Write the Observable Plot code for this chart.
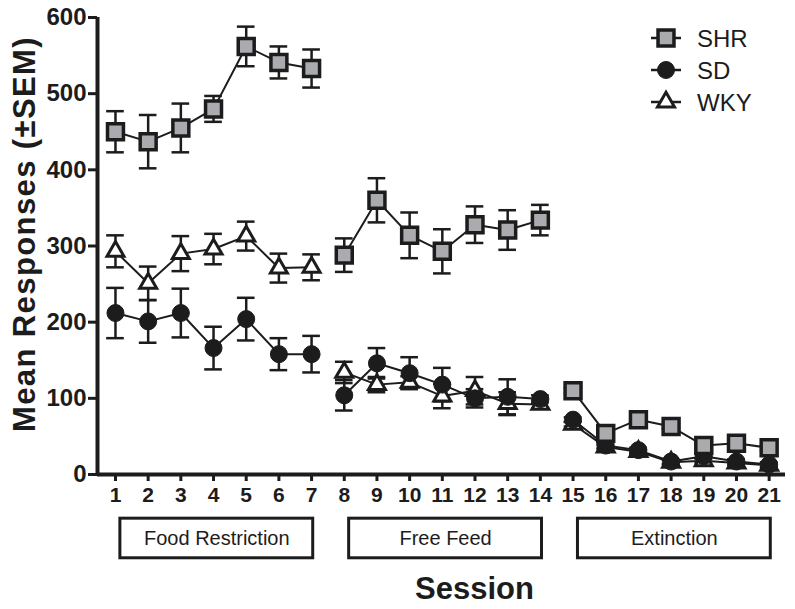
<!DOCTYPE html>
<html>
<head>
<meta charset="utf-8">
<script src="https://cdn.jsdelivr.net/npm/d3@7"></script>
<script src="https://cdn.jsdelivr.net/npm/@observablehq/plot@0.6"></script>
<style>
  html, body { margin: 0; padding: 0; background: #fff; }
  #wrap { position: relative; width: 795px; height: 609px; }
  #legend { position: absolute; left: 0; top: 0; }
</style>
</head>
<body>
<div id="wrap"></div>
<script>
// ---- data ----
const sessions = [1,2,3,4,5,6,7,8,9,10,11,12,13,14,15,16,17,18,19,20,21];
const seriesNames = ["SHR", "SD", "WKY"];
const shrMean = [450,437,455,480,562,541,533, 288,360,314,293,328,321,334, 110,54,72,63,38,41,35];
const shrSem  = [27,35,32,17,26,21,25, 22,29,30,29,24,26,20, 3,3,3,3,3,3,3];
const sdMean  = [212,201,212,166,204,158,158, 104,146,133,118,100,102,99, 72,38,32,17,24,17,13];
const sdSem   = [33,28,32,28,28,21,24, 20,20,21,22,12,23,5, 3,3,3,3,3,3,3];
const wkyMean = [293,251,290,296,313,271,272, 134,118,121,103,110,93,92, 66,36,30,16,18,15,12];
const wkySem  = [21,22,23,20,19,19,17, 14,10,8,16,18,15,5, 3,3,3,3,3,3,3];
const phaseNames = ["Food Restriction", "Free Feed", "Extinction"];
const phaseStart = [1, 8, 15];
const phaseEnd = [7, 14, 21];
const yTicks = [0,100,200,300,400,500,600];
const yLabel = "Mean Responses (\u00B1SEM)";
const xLabel = "Session";

// ---- build tables ----
const phaseOf = s => phaseNames[phaseStart.findIndex((st, i) => s >= st && s <= phaseEnd[i])];
const means = {SHR: shrMean, SD: sdMean, WKY: wkyMean};
const sems = {SHR: shrSem, SD: sdSem, WKY: wkySem};
const rows = [];
for (const name of seriesNames) {
  sessions.forEach((s, i) => rows.push({series: name, session: s, mean: means[name][i], sem: sems[name][i], phase: phaseOf(s)}));
}
const phases = phaseNames.map((n, i) => ({name: n, start: phaseStart[i], end: phaseEnd[i]}));

const ink = "#1c1c1c";
const gray = "#a9abae";
const capHalf = 0.27;

const chart = Plot.plot({
  width: 795,
  height: 609,
  marginLeft: 97,
  marginRight: 10,
  marginTop: 17,
  marginBottom: 135,
  style: {fontFamily: "'Liberation Sans', Arial, sans-serif", color: ink, background: "#fff", overflow: "visible"},
  x: {type: "linear", domain: [0.45, 21.5]},
  y: {domain: [0, 600]},
  marks: [
    Plot.axisY({ticks: yTicks, tickSize: 9, tickPadding: 2, fontSize: 24, fontWeight: "bold", strokeWidth: 3, label: null}),
    Plot.axisX({ticks: sessions, tickSize: 7, tickPadding: 6, fontSize: 21, fontWeight: "bold", strokeWidth: 3, label: null, tickFormat: d => String(d)}),
    Plot.ruleX([0.45], {y1: 0, y2: 600, stroke: ink, strokeWidth: 4}),
    Plot.ruleY([0], {x1: 0.45, x2: 21.5, stroke: ink, strokeWidth: 4}),
    // error bars
    Plot.ruleX(rows, {x: "session", y1: d => d.mean - d.sem, y2: d => d.mean + d.sem, stroke: ink, strokeWidth: 2.5}),
    Plot.ruleY(rows, {y: d => d.mean + d.sem, x1: d => d.session - capHalf, x2: d => d.session + capHalf, stroke: ink, strokeWidth: 2.5}),
    Plot.ruleY(rows, {y: d => d.mean - d.sem, x1: d => d.session - capHalf, x2: d => d.session + capHalf, stroke: ink, strokeWidth: 2.5}),
    // lines (broken between phases)
    Plot.line(rows, {x: "session", y: "mean", z: d => d.series + "|" + d.phase, stroke: ink, strokeWidth: 2}),
    // markers
    Plot.dot(rows.filter(d => d.series === "WKY"), {x: "session", y: "mean", symbol: "triangle", r: 6.3, fill: "#fff", stroke: ink, strokeWidth: 3}),
    Plot.dot(rows.filter(d => d.series === "SD"), {x: "session", y: "mean", symbol: "circle", r: 8.5, fill: ink, stroke: ink, strokeWidth: 1}),
    Plot.dot(rows.filter(d => d.series === "SHR"), {x: "session", y: "mean", symbol: "square", r: 9, fill: gray, stroke: ink, strokeWidth: 3.5}),
    // phase boxes
    Plot.rect(phases, {x1: d => d.start + 0.15, x2: d => d.end + 0.05, y1: -58, y2: -110, fill: "#fff", stroke: ink, strokeWidth: 3}),
    Plot.text(phases, {x: d => (d.start + 0.15 + d.end + 0.05) / 2, y: -84, text: "name", fontSize: 20, fill: ink}),
    // axis titles
    Plot.text([yLabel], {frameAnchor: "left", textAnchor: "middle", lineAnchor: "middle", rotate: -90, dx: -72, dy: -12, fontSize: 31, fontWeight: "bold", fill: ink, className: "ylab"}),
    Plot.text([xLabel], {frameAnchor: "bottom", dx: 33, dy: 124, fontSize: 31, fontWeight: "bold", fill: ink})
  ]
});

document.getElementById("wrap").appendChild(chart);

// widen y label letter spacing to match the reference length
d3.select(chart).selectAll(".ylab text").attr("letter-spacing", "1.4");

// ---- legend ----
const leg = d3.select("#wrap").append("svg").attr("id", "legend").attr("width", 795).attr("height", 609).style("pointer-events", "none");
const legY = [38, 70, 102];
const legX = 666;
const legendSymbols = {
  SHR: {type: d3.symbolSquare, size: Math.PI * 81, fill: gray, sw: 3.5},
  SD: {type: d3.symbolCircle, size: Math.PI * 72, fill: ink, sw: 1},
  WKY: {type: d3.symbolTriangle, size: Math.PI * 40, fill: "#fff", sw: 3}
};
seriesNames.forEach((name, i) => {
  const g = leg.append("g").attr("transform", `translate(${legX},${legY[i]})`);
  g.append("line").attr("x1", -15).attr("x2", 15).attr("stroke", ink).attr("stroke-width", 2.5);
  const s = legendSymbols[name];
  g.append("path").attr("d", d3.symbol(s.type, s.size)()).attr("fill", s.fill).attr("stroke", ink).attr("stroke-width", s.sw);
  g.append("text").attr("x", 31).attr("y", 0).attr("dy", "0.36em").attr("font-size", 24)
    .attr("font-family", "'Liberation Sans', Arial, sans-serif").attr("fill", ink).text(name);
});
</script>
</body>
</html>
